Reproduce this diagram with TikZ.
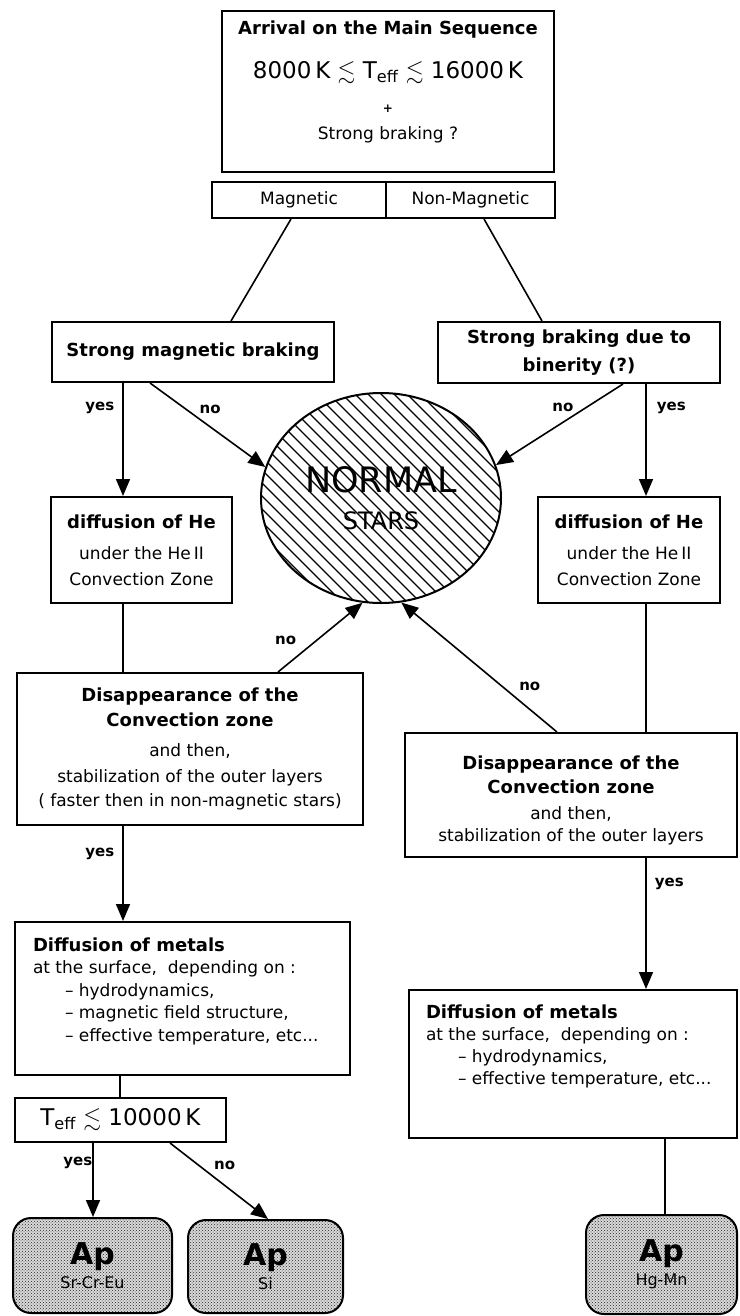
\documentclass[tikz,border=0pt]{standalone}
\usepackage{amsmath,amssymb}
\usepackage{fontspec}
\setmainfont{DejaVu Sans}
\usepackage{tikz}
\tikzstyle{block} = [rectangle, draw, line width=2pt, align=center,
    inner sep=0pt, font=\fontsize{17}{22}\selectfont]
\tikzstyle{apbox} = [rectangle, draw, line width=2pt, rounded corners=18pt,
    align=center, inner sep=0pt, font=\fontsize{16}{20}\selectfont,
    preaction={fill=gray!30}, pattern=crosshatch dots, pattern color=gray!30!black]
\tikzstyle{hatched} = [path picture={\foreach \k in {-26,...,26}
    \draw[line width=1.1pt] ([xshift=\k*13pt]path picture bounding box.center)
    ++(-170pt,170pt) -- ++(340pt,-340pt);}]
\tikzstyle{link} = [line width=1.6pt]
\tikzstyle{arr} = [line width=1.6pt, -{Triangle[length=17pt,width=14pt]}]
\tikzstyle{lbl} = [inner sep=0pt, font=\bfseries\fontsize{15}{18}\selectfont]
\usetikzlibrary{arrows.meta}
\usetikzlibrary{shapes.geometric}
\usetikzlibrary{patterns}

\begin{document}
\begin{tikzpicture}[x=1pt,y=-1pt]
    \useasboundingbox (0,0) rectangle (739,1316);

    \node[block, minimum width=332pt, minimum height=161pt] (arrival) at (388,91.5)
        {{\bfseries\fontsize{18}{22}\selectfont Arrival on the Main Sequence}\\[22pt]
         {\fontsize{23}{26}\selectfont 8000\,K $\lesssim$ T\textsubscript{eff} $\lesssim$ 16000\,K}\\[12pt]
         {\bfseries\fontsize{12}{14}\selectfont +}\\[5pt]
         Strong braking ?\rule[-23pt]{0pt}{1pt}};

    \node[block, minimum width=174pt, minimum height=36pt] (mag) at (299,200) {Magnetic};
    \node[block, minimum width=169pt, minimum height=36pt] (nonmag) at (470.5,200) {Non-Magnetic};

    \node[block, minimum width=282pt, minimum height=60pt, font=\bfseries\fontsize{18}{22}\selectfont]
        (magbrake) at (193,352) {Strong magnetic braking};
    \node[block, minimum width=282pt, minimum height=61pt, font=\bfseries\fontsize{18}{22}\selectfont]
        (binbrake) at (579,352.5) {Strong braking due to\\[6pt] binerity (?)};

    \node[ellipse, draw, line width=2pt, minimum width=240pt, minimum height=210pt,
        inner sep=0pt, align=center, hatched, font=\fontsize{24}{28}\selectfont] (normal) at (381,498)
        {{\fontsize{35}{38}\selectfont NORMAL}\\[9pt]STARS};

    \node[block, minimum width=181pt, minimum height=106pt] (hediff1) at (141.5,550)
        {{\bfseries\fontsize{18}{22}\selectfont diffusion of He}\\[9pt] under the He\,II\\[4pt] Convection Zone};
    \node[block, minimum width=182pt, minimum height=106pt] (hediff2) at (629,550)
        {{\bfseries\fontsize{18}{22}\selectfont diffusion of He}\\[9pt] under the He\,II\\[4pt] Convection Zone};

    \node[block, minimum width=346pt, minimum height=152pt] (disap1) at (190,749)
        {{\bfseries\fontsize{18}{22}\selectfont Disappearance of the}\\[3pt]
         {\bfseries\fontsize{18}{22}\selectfont Convection zone}\\[8pt]
         and then,\\[4pt] stabilization of the outer layers\\[2pt]
         ( faster then in non-magnetic stars)};
    \node[block, minimum width=332pt, minimum height=124pt] (disap2) at (571,795)
        {\rule{0pt}{24pt}{\bfseries\fontsize{18}{22}\selectfont Disappearance of the}\\[2pt]
         {\bfseries\fontsize{18}{22}\selectfont Convection zone}\\[4pt]
         and then,\\ stabilization of the outer layers};

    \node[block, minimum width=335pt, minimum height=153pt] (metals1) at (182.5,998.5)
        {\begin{minipage}[c][153pt][t]{299pt}\raggedright\fontsize{17}{22.5}\selectfont
         \rule{0pt}{29pt}{\bfseries\fontsize{18}{22}\selectfont Diffusion of metals}\\
         at the surface,~ depending on :\\
         \hspace*{32pt}-- hydrodynamics,\\
         \hspace*{32pt}-- magnetic field structure,\\
         \hspace*{32pt}-- effective temperature, etc...
         \end{minipage}};
    \node[block, minimum width=328pt, minimum height=148pt] (metals2) at (573,1064)
        {\begin{minipage}[c][148pt][t]{294pt}\raggedright\fontsize{17}{22}\selectfont
         \rule{0pt}{28pt}{\bfseries\fontsize{18}{22}\selectfont Diffusion of metals}\\
         at the surface,~ depending on :\\
         \hspace*{32pt}-- hydrodynamics,\\
         \hspace*{32pt}-- effective temperature, etc...
         \end{minipage}};

    \node[block, minimum width=211pt, minimum height=44pt] (tlimit) at (120.5,1120)
        {\fontsize{23}{26}\selectfont T\textsubscript{eff} $\lesssim$ 10000\,K};

    \node[apbox, minimum width=159pt, minimum height=95pt] (apsrcr) at (92.5,1265.5)
        {{\bfseries\fontsize{30}{30}\selectfont Ap}\\[4pt] Sr-Cr-Eu};
    \node[apbox, minimum width=155pt, minimum height=93pt] (apsi) at (265.5,1266.5)
        {{\bfseries\fontsize{30}{30}\selectfont Ap}\\[4pt] Si};
    \node[apbox, minimum width=151pt, minimum height=99pt] (aphgmn) at (661.5,1264.5)
        {{\bfseries\fontsize{30}{30}\selectfont Ap}\\[4pt] Hg-Mn};

    \draw[link] ([xshift=-8pt]mag.south) -- ([xshift=38pt]magbrake.north);
    \draw[link] ([xshift=13.5pt]nonmag.south) -- ([xshift=-37pt]binbrake.north);

    \draw[arr] ([xshift=-70pt]magbrake.south) -- node[lbl, pos=0.22, left=8pt] {yes} ([xshift=-18.5pt]hediff1.north);
    \draw[arr] ([xshift=-43pt]magbrake.south) -- node[lbl, pos=0.32, right=12pt] {no} (normal.165);
    \draw[arr] ([xshift=44pt]binbrake.south) -- node[lbl, pos=0.29, left=12pt] {no} (normal.16);
    \draw[arr] ([xshift=67pt]binbrake.south) -- node[lbl, pos=0.21, right=10pt] {yes} ([xshift=17pt]hediff2.north);

    \draw[link] ([xshift=-18.5pt]hediff1.south) -- ([xshift=-67pt]disap1.north);
    \draw[link] ([xshift=17pt]hediff2.south) -- ([xshift=75pt]disap2.north);

    \draw[arr] ([xshift=88pt]disap1.north) -- node[lbl, pos=0.46, left=20pt] {no} (normal.260);
    \draw[arr] ([xshift=-14pt]disap2.north) -- node[lbl, pos=0.35, right=16pt] {no} (normal.281);

    \draw[arr] ([xshift=-67pt]disap1.south) -- node[lbl, pos=0.29, left=8pt] {yes} ([xshift=-59.5pt]metals1.north);
    \draw[arr] ([xshift=75pt]disap2.south) -- node[lbl, pos=0.2, right=8pt] {yes} ([xshift=73pt]metals2.north);

    \draw[link] ([xshift=-62.5pt]metals1.south) -- ([xshift=-0.5pt]tlimit.north);
    \draw[arr] ([xshift=-27.5pt]tlimit.south) -- node[lbl, pos=0.27, left=0pt] {yes} ([xshift=0.5pt]apsrcr.north);
    \draw[arr] ([xshift=49.5pt]tlimit.south) -- node[lbl, pos=0.3, right=14pt] {no} ([xshift=2.5pt]apsi.north);
    \draw[link] ([xshift=92pt]metals2.south) -- ([xshift=3.5pt]aphgmn.north);
\end{tikzpicture}
\end{document}
